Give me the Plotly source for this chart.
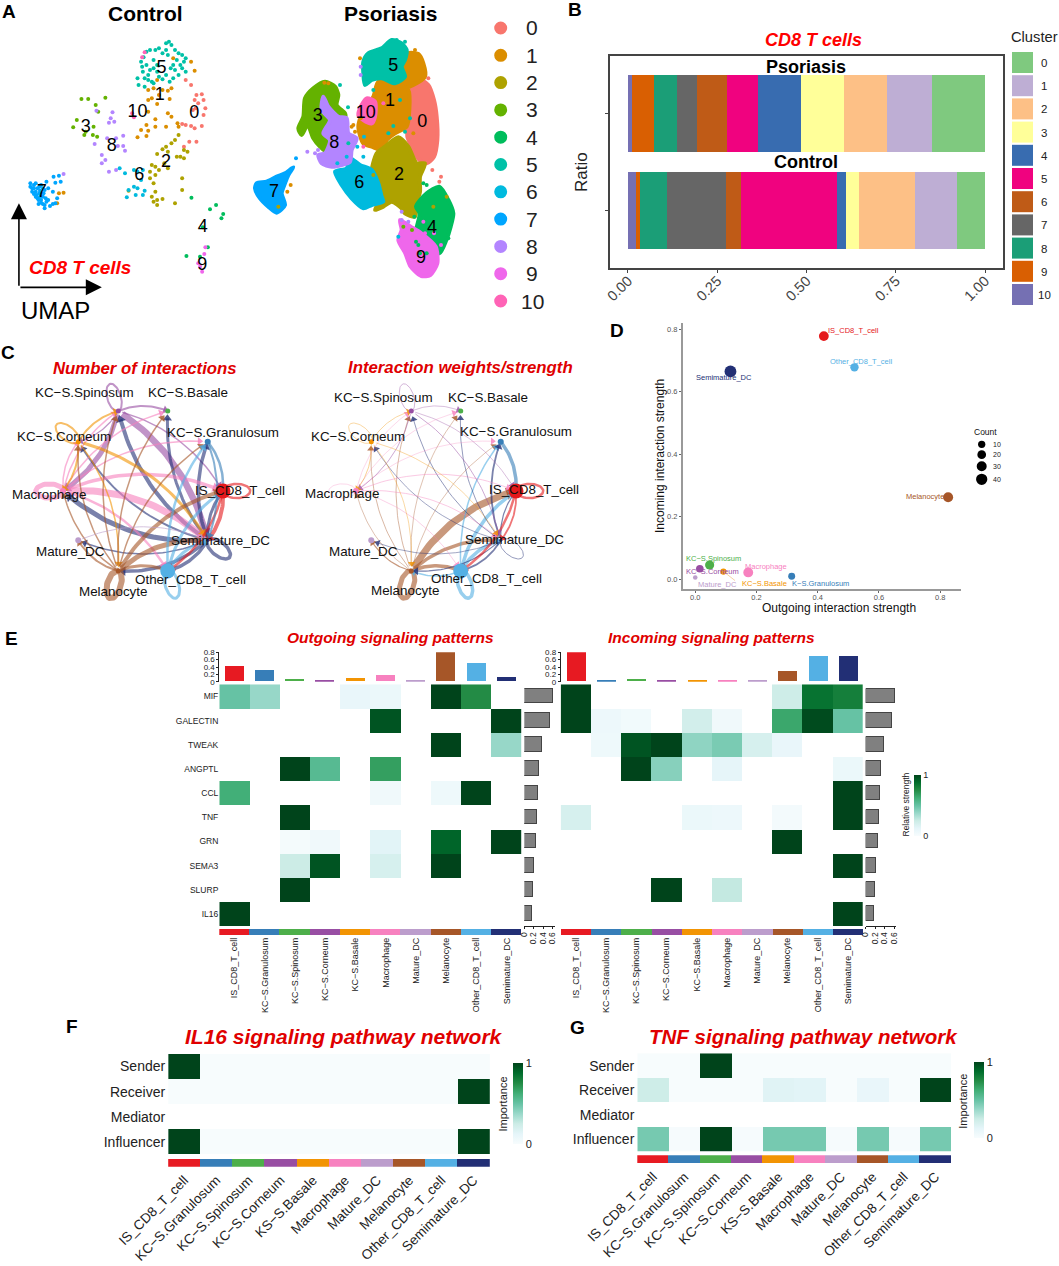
import numpy as np
import plotly.graph_objects as go

W, H = 1059, 1266
FONT = "Liberation Sans"
RED = "#e00000"

# ---- panel A: UMAP, cluster colours and positions
cluster_names = [str(i) for i in range(11)]
hue = ["#F8766D", "#DB8E00", "#AEA200", "#64B200", "#00BD5C", "#00C1A7", "#00BADE", "#00A6FF", "#B385FF", "#EF67EB", "#FF63B6"]

ctrl0 = [(520,240),(535,255),(550,285),(565,283),(570,300),(545,300),(555,310),(575,325),(570,345),(548,325),(540,330),(520,375),(510,372),(535,378),(545,385),(565,378),(515,440),(530,425),(550,425)]
ctrl1 = [(440,240),(430,265),(415,270),(480,265),(470,272),(455,270),(445,285),(425,295),(415,300),(475,297),(440,312),(485,175),(535,185),(545,212),(415,335),(410,375),(395,390),(415,392),(385,412),(410,408),(435,358),(470,340),(480,350),(497,370),(500,380),(465,380),(435,380),(165,580),(178,578),(160,610)]
ctrl2 = [(500,405),(490,420),(480,430),(465,440),(455,448),(470,455),(440,462),(515,450),(525,455),(505,470),(515,475),(495,470),(460,490),(435,500),(425,495),(445,510),(420,515),(435,525),(470,505),(420,535),(430,550),(510,535),(510,570),(360,572),(435,575),(425,590),(440,600),(455,597),(440,615),(490,610),(430,605)]
ctrl3 = [(228,297),(247,297),(295,293),(268,315),(275,335),(215,360),(205,382),(240,395),(262,380),(260,405),(272,410),(236,405)]
ctrl4 = [(605,615),(588,628),(625,642),(620,655),(568,682),(522,768),(560,770),(582,742),(536,593)]
ctrl5 = [(473,125),(465,130),(480,135),(445,145),(435,150),(420,150),(410,155),(490,150),(500,160),(510,165),(520,175),(515,185),(495,180),(505,195),(470,165),(455,160),(465,150),(402,172),(395,185),(410,195),(400,215),(420,210),(430,205),(415,225),(440,215),(385,235),(388,255),(405,235),(425,245),(445,230),(465,225),(485,235),(500,225),(475,245),(520,215),(490,210),(510,205),(440,195),(455,238),(415,240),(398,200),(430,180),(478,205),(485,195),(430,250),(405,260)]
ctrl6 = [(335,505),(350,520),(375,510),(385,515),(400,510),(395,540),(375,560),(360,570),(385,565),(405,572),(355,592),(380,585),(400,585)]
ctrl7 = [(150,530),(165,527),(155,548),(130,545),(170,545),(148,575),(160,595),(155,610),(148,612),(125,625),(140,618),(120,612),(108,600),(100,590),(90,575),(85,560),(85,550),(95,555),(105,565),(115,555),(125,570),(135,565),(120,590),(110,580),(105,595),(95,565),(130,605),(115,600),(100,575),(90,565),(100,550),(110,560),(120,565),(112,572),(122,580),(102,585),(95,582),(112,590),(128,595),(135,600),(125,615),(115,608),(108,612)]
ctrl8 = [(315,337),(310,355),(320,365),(305,368),(270,332),(265,432),(300,415),(325,415),(345,407),(330,438),(345,438),(350,452),(285,465),(295,480),(285,490),(305,515),(325,510),(178,522)]
ctrl9 = [(575,742),(572,762),(555,790),(566,815),(560,800)]
ctrl10 = [(375,352),(370,340),(405,157),(398,172)]
control_points = [ctrl0, ctrl1, ctrl2, ctrl3, ctrl4, ctrl5, ctrl6, ctrl7, ctrl8, ctrl9, ctrl10]

psor0 = [(1250,235),(1285,255),(1302,300),(1310,350),(1312,420),(1302,470),(1280,490),(1258,480),(1235,440),(1222,410),(1225,360),(1225,300),(1235,265)]
psor1a = [(1135,245),(1185,250),(1225,270),(1228,330),(1220,380),(1185,400),(1160,420),(1145,450),(1115,440),(1090,430),(1075,380),(1090,330),(1120,290)]
psor1b = [(1225,160),(1255,162),(1270,190),(1275,230),(1240,255),(1210,265),(1205,200),(1220,180)]
psor5 = [(1175,120),(1205,130),(1220,150),(1215,180),(1205,200),(1215,230),(1185,250),(1145,235),(1115,240),(1095,255),(1090,220),(1090,185),(1105,160),(1145,145)]
psor2 = [(1115,520),(1130,460),(1155,440),(1195,412),(1225,440),(1250,490),(1275,490),(1260,530),(1260,575),(1250,610),(1245,650),(1215,640),(1205,625),(1175,605),(1150,620),(1125,630),(1145,590),(1135,550)]
psor6 = [(1050,475),(1080,495),(1115,510),(1135,550),(1145,590),(1150,605),(1115,615),(1090,625),(1055,595),(1025,555),(1005,515),(1040,505)]
psor3 = [(975,245),(1005,260),(1015,285),(1010,315),(1035,340),(1035,352),(1005,355),(1015,380),(995,420),(980,455),(960,440),(940,415),(923,375),(905,405),(895,385),(910,350),(915,295),(940,265)]
psor8 = [(970,290),(985,320),(1015,350),(1040,355),(1045,400),(1070,415),(1055,450),(1050,485),(1025,495),(995,500),(965,490),(955,465),(975,460),(990,420),(970,400),(990,360),(965,330)]
psor10 = [(1100,295),(1125,305),(1125,350),(1115,370),(1090,360),(1075,345),(1085,315)]
psor7 = [(880,502),(865,525),(855,550),(845,580),(855,615),(830,638),(805,620),(780,595),(765,565),(770,550),(800,545),(830,530),(855,520)]
psor4 = [(1318,560),(1345,600),(1360,640),(1352,680),(1339,720),(1318,760),(1275,730),(1248,700),(1259,640),(1248,620),(1280,580)]
psor9 = [(1200,660),(1232,680),(1264,700),(1307,740),(1312,790),(1291,825),(1264,828),(1232,800),(1216,760),(1195,720),(1205,690)]
psor_blobs = [(psor0,0),(psor1a,1),(psor1b,1),(psor5,5),(psor2,2),(psor6,6),(psor3,3),(psor8,8),(psor10,10),(psor7,7),(psor4,4),(psor9,9)]

# stray cells around the blobs: x, y, cluster
psor_stray = [(1323,530,0),(1318,545,0),(1297,510,0),(1270,550,4),(1280,555,4),(1205,635,8),(1205,660,8),(888,475,7),(922,455,8),(954,450,8),(1090,470,6),(1072,440,6),(1044,322,5),(1120,270,5),(1082,225,8),(1082,355,1),(1060,375,1),(872,555,1),(862,575,1),(835,620,2),(1210,680,3),(1340,590,2),(1243,650,4),(1275,700,9),(1255,735,4),(1302,700,9),(1323,735,9),(1248,725,4),(1280,760,4),(1180,378,5),(1120,525,2),(1092,410,6),(1012,490,6),(985,250,1),(973,248,1),(945,460,8),(943,400,3),(1020,255,5),(1080,175,1),(1082,200,8),(1190,120,5),(1215,125,5),(1245,150,1),(1285,235,0),(1195,710,6),(1090,440,10),(1065,395,1),(1055,380,1),(1045,430,5),(1040,470,6),(1092,395,1),(1165,400,5),(1215,395,5),(1230,355,5),(1240,400,1),(1150,310,10),(1200,300,5),(1260,760,4),(1290,780,9),(1270,665,9),(1300,620,2),(1236,690,3),(1225,665,8),(1215,700,9),(1345,715,4)]

ctrl_lab = [(544,340),(447,285),(465,488),(240,381),(568,682),(452,205),(390,525),(117,578),(313,438),(566,797),(385,337)]
psor_lab = [(1267,367),(1170,305),(1197,525),(953,350),(1296,685),(1180,200),(1078,550),(822,578),(1003,430),(1263,775),(1097,340)]

# ---- panel B: stacked ratio
bar_colors = ["#7FC97F", "#BEAED4", "#FDC086", "#FFFF99", "#386CB0", "#F0027F", "#BF5B17", "#666666", "#1B9E77", "#D95F02", "#7570B3"]
ratio_conditions = ["Control", "Psoriasis"]
ratio_control = [.077, .118, .157, .036, .026, .269, .043, .164, .0766, .0112, .0215]
ratio_psoriasis = [.147, .128, .12, .121, .12, .086, .083, .057, .0635, .0635, .0103]
ratio_ticks = [0, .25, .5, .75, 1]
ratio_ticklabels = ["0.00", "0.25", "0.50", "0.75", "1.00"]

# ---- panel C: circle networks
net_nodes = ["IS", "Gran", "Bas", "Spin", "Corn", "Mac", "Mat", "Mel", "Oth", "Semi"]
net_labels = ["IS_CD8_T_cell", "KC−S.Granulosum", "KC−S.Basale", "KC−S.Spinosum", "KC−S.Corneum", "Macrophage", "Mature_DC", "Melanocyte", "Other_CD8_T_cell", "Semimature_DC"]
net_colors = ["#E5191C", "#377EB8", "#4DAF4A", "#984EA3", "#F29403", "#F781BF", "#BC9DCC", "#A65628", "#54B0E4", "#222F75"]
net_sizes = [15, 6, 5, 5, 5, 6, 6, 5, 15, 3]
net1_lab = [(627,452),(582,277),(492,157),(220,157),(168,290),(127,463),(183,635),(296,755),(497,720),(576,600)]
net2_lab = [(1395,450),(1349,275),(1276,172),(1002,172),(935,290),(894,461),(951,633),(1058,752),(1270,716),(1344,598)]
net1_edges = [
    ("Spin","Semi",6.5),("Spin","Mac",5),("Spin","Spin",2),("Spin","Bas",2),("Spin","IS",1.5),("Spin","Corn",1.2),
    ("Semi","Spin",4),("Semi","Bas",3),("Semi","Gran",3.5),("Semi","Corn",2),("Semi","Mac",5),("Semi","Mat",1.5),("Semi","Mel",3.5),("Semi","Semi",3.5),("Semi","Oth",3.5),("Semi","IS",3),
    ("Mac","Mac",5),("Mac","Semi",7),("Mac","IS",3.5),("Mac","Oth",2.5),("Mac","Spin",1.5),("Mac","Gran",1.5),("Mac","Corn",1.5),("Mac","Bas",1.5),
    ("Corn","Mac",2),("Corn","Spin",2),("Corn","Corn",2),("Corn","Semi",3),("Corn","Mel",1.5),
    ("Mel","Spin",1.5),("Mel","Bas",1.5),("Mel","Gran",1.5),("Mel","Corn",1.5),("Mel","Mac",1.5),("Mel","IS",4),("Mel","Semi",5),("Mel","Mat",2),("Mel","Mel",6),("Mel","Oth",3),
    ("Oth","Oth",3),("Oth","IS",3),("Oth","Gran",2.5),("Oth","Semi",3),
    ("IS","IS",2.5),("IS","Semi",4),("IS","Oth",2.5),("Gran","IS",2.5),("Gran","Semi",2),("Mat","Semi",1),
]
net2_edges = [
    ("Mel","IS",7),("Mel","Semi",3.5),("Mel","Oth",3.5),("Mel","Mel",5),("Mel","Spin",.7),("Mel","Bas",.6),("Mel","Gran",.6),("Mel","Corn",.7),("Mel","Mac",.6),("Mel","Mat",1.2),
    ("Oth","IS",3.5),("Oth","Gran",1.5),("Oth","Semi",3.5),("Oth","Oth",3.5),("Oth","Mel",1.5),
    ("Gran","IS",3.5),("Semi","Gran",1.8),("Semi","Oth",1.8),("Semi","IS",1.2),("Semi","Bas",.8),("Semi","Corn",.7),("Semi","Spin",.8),("Semi","Mel",1.2),("Semi","Semi",.8),("Semi","Mat",.7),
    ("IS","IS",2.5),("IS","Oth",2.5),("IS","Semi",1.8),
    ("Spin","Semi",.8),("Spin","Mac",.8),("Spin","Spin",.7),("Spin","Bas",.6),("Spin","IS",.6),
    ("Mac","Semi",.7),("Mac","IS",.7),("Mac","Oth",.6),("Mac","Spin",.5),("Mac","Gran",.5),("Mac","Bas",.5),("Mac","Mac",.5),
    ("Corn","Mac",.7),("Corn","Spin",.6),("Corn","Semi",.6),("Corn","Corn",.6),("Corn","Mel",.6),
]

# ---- panel D: outgoing / incoming strength
role_names = ["IS_CD8_T_cell", "Other_CD8_T_cell", "Semimature_DC", "Melanocyte", "KC−S.Spinosum", "KC−S.Corneum", "KC−S.Basale", "Macrophage", "Mature_DC", "K−S.Granulosum"]
role_out = [.42, .52, .115, .826, .047, .015, .092, .173, 0, .315]
role_in = [.778, .678, .665, .262, .045, .033, .024, .021, .005, .009]
role_count = [25, 15, 40, 26, 20, 10, 6, 25, 1, 8]
role_colors = ["#E5191C", "#54B0E4", "#222F75", "#A65628", "#4DAF4A", "#984EA3", "#F29403", "#F781BF", "#BC9DCC", "#377EB8"]
role_lab = [(853,330),(861,361),(724,378),(925,497),(713,558),(712,572),(764,583),(766,566),(717,584),(820,583)]
count_legend = [10, 20, 30, 40]

# ---- panel E: signaling heatmaps
pathways = ["MIF", "GALECTIN", "TWEAK", "ANGPTL", "CCL", "TNF", "GRN", "SEMA3", "SLURP", "IL16"]
e_cells = ["IS_CD8_T_cell", "KC−S.Granulosum", "KC−S.Spinosum", "KC−S.Corneum", "KC−S.Basale", "Macrophage", "Mature_DC", "Melanocyte", "Other_CD8_T_cell", "Semimature_DC"]
cell_colors = ["#E71A22", "#377EB8", "#4DAF4A", "#984EA3", "#F29403", "#F781BF", "#BC9DCC", "#A65628", "#54B0E4", "#222F75"]
n = None
out_z = [
    [.5, .38, n, n, .1, .08, n, 1, .75, n],
    [n, n, n, n, n, .95, n, n, n, 1],
    [n, n, n, n, n, n, n, 1, n, .38],
    [n, n, 1, .55, n, .68, n, n, n, n],
    [.62, n, n, n, n, .05, n, .06, 1, n],
    [n, n, 1, n, n, n, n, n, n, n],
    [n, n, .02, .05, n, .14, n, .9, n, 1],
    [n, n, .25, .95, n, .2, n, 1, n, n],
    [n, n, 1, n, n, n, n, n, n, n],
    [1, n, n, n, n, n, n, n, n, n],
]
in_z = [
    [1, n, n, n, n, n, n, .24, .85, .8],
    [1, .07, .04, n, .22, .05, n, .65, .98, .5],
    [n, .06, .95, 1, .4, .45, .2, .1, n, n],
    [n, n, 1, .42, n, .12, n, n, n, .08],
    [n, n, n, n, n, n, n, n, n, 1],
    [.2, n, n, n, .08, .07, n, .03, n, 1],
    [n, n, n, n, n, n, n, 1, n, n],
    [n, n, n, n, n, n, n, n, n, 1],
    [n, n, n, 1, n, .27, n, n, n, n],
    [n, n, n, n, n, n, n, n, n, 1],
]
out_top = [.41, .32, .06, .04, .1, .17, .02, .8, .51, .12]
in_top = [.8, .03, .06, .05, .04, .04, .02, .28, .7, .69]
out_side = [.615, .56, .38, .32, .30, .275, .255, .22, .19, .177]
in_side = [.61, .555, .38, .32, .30, .275, .255, .22, .19, .177]
bugn = ["#F7FCFD", "#E5F5F9", "#CCECE6", "#99D8C9", "#66C2A4", "#41AE76", "#238B45", "#006D2C", "#00441B"]

# ---- panels F, G: pathway role heatmaps
roles = ["Sender", "Receiver", "Mediator", "Influencer"]
fg_cells = ["IS_CD8_T_cell", "KC−S.Granulosum", "KC−S.Spinosum", "KC−S.Corneum", "KS−S.Basale", "Macrophage", "Mature_DC", "Melanocyte", "Other_CD8_T_cell", "Semimature_DC"]
il16_z = [
    [1, 0, 0, 0, 0, 0, 0, 0, 0, 0],
    [0, 0, 0, 0, 0, 0, 0, 0, 0, 1],
    [n, n, n, n, n, n, n, n, n, n],
    [1, 0, 0, 0, 0, 0, 0, 0, 0, 1],
]
tnf_z = [
    [0, 0, 1, 0, 0, 0, 0, 0, 0, 0],
    [.24, 0, 0, 0, .15, .14, 0, .1, 0, 1],
    [n, n, n, n, n, n, n, n, n, n],
    [.46, .01, 1, .01, .46, .46, .01, .46, .01, .46],
]

fig = go.Figure()


def xd(a, b):
    return [a / W, b / W]


def yd(a, b):
    return [1 - b / H, 1 - a / H]


def set_axes(k, x0, x1, y0, y1, xr, yr, xkw=None, ykw=None):
    base = dict(showgrid=False, zeroline=False, showticklabels=False, ticks="", showline=False, layer="above traces")
    xa = dict(base, domain=xd(x0, x1), range=xr, anchor=f"y{k}")
    ya = dict(base, domain=yd(y0, y1), range=yr, anchor=f"x{k}")
    xa.update(xkw or {})
    ya.update(ykw or {})
    fig.update_layout(**{f"xaxis{k}": xa, f"yaxis{k}": ya})


annots = []
shapes = []


def txt(x, y, s, size=12, color="#000", angle=0, anchor="center", bold=False, italic=False):
    if italic:
        s = f"<i>{s}</i>"
    if bold:
        s = f"<b>{s}</b>"
    annots.append(dict(x=x / W, y=1 - y / H, xref="paper", yref="paper", text=s, showarrow=False,
                       xanchor=anchor, yanchor="middle", textangle=angle, font=dict(size=size, color=color)))


def circle(x, y, d, color):
    shapes.append(dict(type="circle", xref="paper", yref="paper", x0=(x - d / 2) / W, x1=(x + d / 2) / W,
                       y0=1 - (y + d / 2) / H, y1=1 - (y - d / 2) / H, fillcolor=color, line=dict(width=0)))


def rect(x0, y0, x1, y1, color):
    shapes.append(dict(type="rect", xref="paper", yref="paper", x0=x0 / W, x1=x1 / W,
                       y0=1 - y1 / H, y1=1 - y0 / H, fillcolor=color, line=dict(width=0)))


# panel letters
for s, x, y in [("A", 9, 12), ("B", 575, 9), ("C", 8, 353), ("D", 617, 331), ("E", 11, 638), ("F", 72, 1026), ("G", 577, 1027)]:
    txt(x, y, s, 19, bold=True)

# ---- A (control uses axis 2, psoriasis axis 19)
set_axes(2, 0, 560, 0, 330, [0, 1568], [990, 0])
set_axes(19, 0, 560, 0, 330, [0, 1680], [990, 0])
for pts, idx in psor_blobs:
    xs = [p[0] for p in pts] + [pts[0][0]]
    ys = [p[1] for p in pts] + [pts[0][1]]
    fig.add_trace(go.Scatter(x=xs, y=ys, mode="lines", fill="toself", fillcolor=hue[idx],
                             line=dict(color=hue[idx], width=4, shape="spline", smoothing=0.7), xaxis="x19", yaxis="y19"))
fig.add_trace(go.Scatter(x=[p[0] for p in psor_stray], y=[p[1] for p in psor_stray], mode="markers",
                         marker=dict(size=4, color=[hue[p[2]] for p in psor_stray], opacity=1), xaxis="x19", yaxis="y19"))
fig.add_trace(go.Scatter(x=[p[0] for p in psor_lab], y=[p[1] for p in psor_lab], mode="text", text=cluster_names,
                         textfont=dict(size=18, color="#000"), xaxis="x19", yaxis="y19"))
for idx, pts in enumerate(control_points):
    fig.add_trace(go.Scatter(x=[p[0] for p in pts], y=[p[1] for p in pts], mode="markers",
                             marker=dict(size=4, color=hue[idx]), xaxis="x2", yaxis="y2"))
fig.add_trace(go.Scatter(x=[p[0] for p in ctrl_lab], y=[p[1] for p in ctrl_lab], mode="text", text=cluster_names,
                         textfont=dict(size=18, color="#000"), xaxis="x2", yaxis="y2"))
txt(145, 13, "Control", 21, bold=True)
txt(390, 13, "Psoriasis", 21, bold=True)
txt(80, 267, "CD8 T cells", 19, "#ff0000", bold=True, italic=True)
txt(55, 311, "UMAP", 24)
for (tx, ty) in [(53, 610), (285, 862)]:
    annots.append(dict(x=tx, y=ty, xref="x2", yref="y2", ax=53, ay=862, axref="x2", ayref="y2", text="",
                       showarrow=True, arrowhead=2, arrowsize=2, arrowwidth=1.6, arrowcolor="#000"))
for i, name in enumerate(cluster_names):
    y = 28 + i * 27.3
    circle(500.7, y, 13, hue[i])
    txt(532, y, name, 21, "#222")

# ---- B
set_axes(3, 610, 1003, 56, 268, [-0.0504, 1.0504], [-0.6, 1.6],
         dict(showline=True, mirror=True, linecolor="#444", linewidth=1.5, ticks="outside", ticklen=3, tickcolor="#444",
              tickvals=ratio_ticks, ticktext=ratio_ticklabels, showticklabels=True, tickangle=-45, ticklabelstandoff=-6,
              tickfont=dict(size=14.5, color="#444")),
         dict(showline=True, mirror=True, linecolor="#444", linewidth=1.5, ticks="outside", ticklen=3, tickcolor="#444",
              tickvals=[0, 1]))
for i in range(10, -1, -1):
    fig.add_trace(go.Bar(y=[0, 1], x=[ratio_control[i], ratio_psoriasis[i]], orientation="h", width=0.8,
                         marker=dict(color=bar_colors[i], line=dict(width=0)), xaxis="x3", yaxis="y3"))
txt(813, 40, "CD8 T cells", 18, "#ff0000", bold=True, italic=True)
txt(806, 66.7, ratio_conditions[1], 18, bold=True)
txt(806, 162, ratio_conditions[0], 18, bold=True)
txt(581, 172, "Ratio", 17, "#222", angle=-90)
txt(1034, 37, "Cluster", 14.7, "#222")
for i, name in enumerate(cluster_names):
    rect(1012, 52 + i * 23.2, 1033, 73 + i * 23.2, bar_colors[i])
    txt(1044, 63 + i * 23.2, name, 11.5, "#222")

# ---- C
angles = np.deg2rad(np.arange(10) * 36.0)
node_x = np.cos(angles)
node_y = np.sin(angles)
net_rx, net_ry = 80.0, 84.0


def draw_net(k, cx, cy, edges, labels, title, title_xy):
    set_axes(k, cx - 1.6 * net_rx, cx + 1.6 * net_rx, cy - 1.6 * net_ry, cy + 1.6 * net_ry, [-1.6, 1.6], [-1.6, 1.6])
    xa, ya = f"x{k}", f"y{k}"
    for src, dst, w in edges:
        i, j = net_nodes.index(src), net_nodes.index(dst)
        col = net_colors[i]
        if i == j:
            # self loop, long ellipse pointing away from the centre
            t = np.linspace(0, 2 * np.pi, 60)
            ux, uy = node_x[i], node_y[i]
            rad = 0.17 * (1 - np.cos(t))
            tan = 0.085 * np.sin(t)
            px_ = ux + ux * rad - uy * tan
            py_ = uy + uy * rad + ux * tan
            fig.add_trace(go.Scatter(x=px_, y=py_, mode="lines", line=dict(color=col, width=w), opacity=0.6, xaxis=xa, yaxis=ya))
            continue
        p0 = np.array([node_x[i], node_y[i]])
        p1 = np.array([node_x[j], node_y[j]])
        d = p1 - p0
        ctrl = (p0 + p1) / 2 + 0.2 * np.array([-d[1], d[0]])
        t = np.linspace(0.03, 0.95, 30)[:, None]
        pts = (1 - t) ** 2 * p0 + 2 * t * (1 - t) * ctrl + t ** 2 * p1
        fig.add_trace(go.Scatter(x=pts[:, 0], y=pts[:, 1], mode="lines", line=dict(color=col, width=w), opacity=0.6, xaxis=xa, yaxis=ya))
        dv = pts[-1] - pts[-2]
        fig.add_trace(go.Scatter(x=[pts[-1, 0]], y=[pts[-1, 1]], mode="markers", opacity=0.8,
                                 marker=dict(symbol="triangle-up", size=6 + w * 0.7, color=col,
                                             angle=float(np.degrees(np.arctan2(dv[0], dv[1]))), line=dict(width=0)),
                                 xaxis=xa, yaxis=ya))
    fig.add_trace(go.Scatter(x=node_x, y=node_y, mode="markers",
                             marker=dict(size=net_sizes, color=net_colors, opacity=1, line=dict(width=0)), xaxis=xa, yaxis=ya))
    for name, (lx, ly) in zip(net_labels, labels):
        txt(lx / 2.613, 340 + ly / 3, name, 13.4, "#111")
    txt(title_xy[0], title_xy[1], title, 16.8, RED, bold=True, italic=True)


draw_net(4, 143, 491, net1_edges, net1_lab, "Number of interactions", (145, 368))
draw_net(5, 436, 491, net2_edges, net2_lab, "Interaction weights/strength", (460, 367))

# ---- D
set_axes(6, 682.7, 961, 323, 589, [-0.041, 0.868], [-0.032, 0.82],
         dict(showline=True, linecolor="#999", linewidth=1.5, ticks="outside", ticklen=2, tickcolor="#666",
              tickvals=[0, .2, .4, .6, .8], ticktext=["0.0", "0.2", "0.4", "0.6", "0.8"], showticklabels=True,
              ticklabelstandoff=-2, tickfont=dict(size=7.5, color="#555")),
         dict(showline=True, linecolor="#999", linewidth=1.5, ticks="outside", ticklen=2, tickcolor="#666",
              tickvals=[0, .2, .4, .6, .8], ticktext=["0.0", "0.2", "0.4", "0.6", "0.8"], showticklabels=True,
              tickfont=dict(size=7.5, color="#555")))
count_bp = [0, 10, 20, 30, 40]
size_bp = [4, 7.3, 8.7, 10, 11.3]
fig.add_trace(go.Scatter(x=role_out, y=role_in, mode="markers", xaxis="x6", yaxis="y6",
                         marker=dict(size=np.interp(role_count, count_bp, size_bp) * 1.05, color=role_colors, opacity=1, line=dict(width=0))))
for name, col, (lx, ly) in zip(role_names, role_colors, role_lab):
    txt(lx, ly, name, 7.5, col)
shapes.append(dict(type="line", xref="x6", yref="y6", x0=role_out[6], y0=role_in[6], x1=.13, y1=-.005,
                   line=dict(color="#F2C080", width=0.7)))
txt(839, 608, "Outgoing interaction strength", 12, "#111")
txt(660, 456, "Incoming interaction strength", 12, "#111", angle=-90)
txt(985.7, 432, "Count", 8.5, "#111")
for c, y in zip(count_legend, [444.3, 454.7, 466.3, 479.3]):
    circle(981.7, y, float(np.interp(c, count_bp, size_bp)), "#000")
    txt(996.7, y, str(c), 7, "#222")


# ---- E
def draw_signaling(k, x0, z, top, side, side_x0, title, title_x, row_labels, show_bar):
    cw = 30.24
    y0, y1 = 684.3, 926
    x1 = x0 + cw * 10
    rng_x = [-0.5, 9.5]
    # heatmap
    set_axes(k, x0, x1, y0, y1, rng_x, [9.5, -0.5], None,
             dict(tickvals=list(range(10)), ticktext=pathways, showticklabels=row_labels, tickfont=dict(size=8.5, color="#222")))
    cbar = dict(x=914 / W, xanchor="left", y=1 - 836 / H, yanchor="bottom", lenmode="pixels", len=61, thickness=7, xpad=0, ypad=0,
                outlinewidth=0, tickvals=[0, 1], ticks="", tickfont=dict(size=9, color="#222"))
    fig.add_trace(go.Heatmap(z=z, x=list(range(10)), y=list(range(10)), zmin=0, zmax=1, colorscale=bugn, hoverongaps=False,
                             showscale=show_bar, colorbar=cbar if show_bar else None, xaxis=f"x{k}", yaxis=f"y{k}"))
    # top bars
    set_axes(k + 1, x0, x1, 652.3, 681.7, rng_x, [0, 0.8], None,
             dict(showline=True, linecolor="#222", linewidth=0.8, ticks="outside", ticklen=2, tickcolor="#222",
                  tickvals=[0, .2, .4, .6, .8], ticktext=["0", "0.2", "0.4", "0.6", "0.8"], showticklabels=True,
                  tickfont=dict(size=8, color="#222")))
    fig.add_trace(go.Bar(x=list(range(10)), y=top, width=0.63, marker=dict(color=cell_colors, line=dict(width=0)),
                         xaxis=f"x{k + 1}", yaxis=f"y{k + 1}"))
    # side bars
    sw = 28.3
    set_axes(k + 2, side_x0, side_x0 + sw * 0.65 / 0.6, y0, y1, [0, 0.65], [9.5, -0.5],
             dict(showline=True, linecolor="#222", linewidth=0.8, ticks="outside", ticklen=2, tickcolor="#222",
                  tickvals=[0, .2, .4, .6], ticktext=["0", "0.2", "0.4", "0.6"], showticklabels=True, tickangle=-90,
                  tickfont=dict(size=8.5, color="#222")))
    fig.add_trace(go.Bar(y=list(range(10)), x=side, width=0.6, orientation="h",
                         marker=dict(color="#808080", line=dict(color="#444", width=1.2)), xaxis=f"x{k + 2}", yaxis=f"y{k + 2}"))
    # colour strip with names
    set_axes(k + 3, x0, x1, 929, 935, rng_x, [0, 1],
             dict(tickvals=list(range(10)), ticktext=e_cells, showticklabels=True, tickangle=-90, tickfont=dict(size=9, color="#222")))
    fig.add_trace(go.Bar(x=list(range(10)), y=[1] * 10, width=1, marker=dict(color=cell_colors, line=dict(width=0)),
                         xaxis=f"x{k + 3}", yaxis=f"y{k + 3}"))
    txt(title_x, 637.7, title, 15.5, RED, bold=True, italic=True)


draw_signaling(7, 219.3, out_z, out_top, out_side, 524.3, "Outgoing signaling patterns", 390, True, False)
draw_signaling(11, 560.7, in_z, in_top, in_side, 865.7, "Incoming signaling patterns", 711.7, False, True)
txt(905.5, 805, "Relative strength", 8.5, "#222", angle=-90)


# ---- F, G
def draw_role(k, x0, x1, y0, y1, sy0, sy1, z, title, title_x, title_size, cb_x, cb_y0, cb_y1, imp_x):
    set_axes(k, x0, x1, y0, y1, [-0.5, 9.5], [3.5, -0.5], None,
             dict(tickvals=[0, 1, 2, 3], ticktext=roles, showticklabels=True, ticklabelstandoff=2, tickfont=dict(size=14, color="#222")))
    cbar = dict(x=cb_x / W, xanchor="left", y=1 - cb_y1 / H, yanchor="bottom", lenmode="pixels", len=cb_y1 - cb_y0, thickness=9.5,
                xpad=0, ypad=0, outlinewidth=0, tickvals=[0, 1], ticks="", tickfont=dict(size=11, color="#222"))
    fig.add_trace(go.Heatmap(z=z, x=list(range(10)), y=list(range(4)), zmin=0, zmax=1, colorscale=bugn, hoverongaps=False,
                             colorbar=cbar, xaxis=f"x{k}", yaxis=f"y{k}"))
    set_axes(k + 1, x0, x1, sy0, sy1, [-0.5, 9.5], [0, 1],
             dict(tickvals=list(range(10)), ticktext=fg_cells, showticklabels=True, tickangle=-45, ticklabelstandoff=2,
                  tickfont=dict(size=13.6, color="#222")))
    fig.add_trace(go.Bar(x=list(range(10)), y=[1] * 10, width=1, marker=dict(color=cell_colors, line=dict(width=0)),
                         xaxis=f"x{k + 1}", yaxis=f"y{k + 1}"))
    txt(title_x, 1036, title, title_size, RED, bold=True, italic=True)
    txt(imp_x, (cb_y0 + cb_y1) / 2 + 1, "Importance", 11, "#222", angle=-90)


draw_role(15, 168.2, 489.8, 1054, 1154.3, 1158.7, 1166.7, il16_z, "IL16 signaling pathway network", 344, 21, 513, 1063, 1144, 502)
draw_role(17, 637.3, 951, 1053.3, 1151.7, 1155.3, 1163.3, tnf_z, "TNF signaling pathway network", 803, 20.5, 974, 1062, 1138, 962.7)

fig.update_layout(width=W, height=H, margin=dict(l=0, r=0, t=0, b=0, autoexpand=False), showlegend=False, barmode="stack",
                  bargap=0, paper_bgcolor="white", plot_bgcolor="rgba(0,0,0,0)", font=dict(family=FONT, color="#222"),
                  annotations=annots, shapes=shapes, hovermode=False)

fig.write_html("out.html", config={"displayModeBar": False}, post_script="document.body.style.margin='0';")
